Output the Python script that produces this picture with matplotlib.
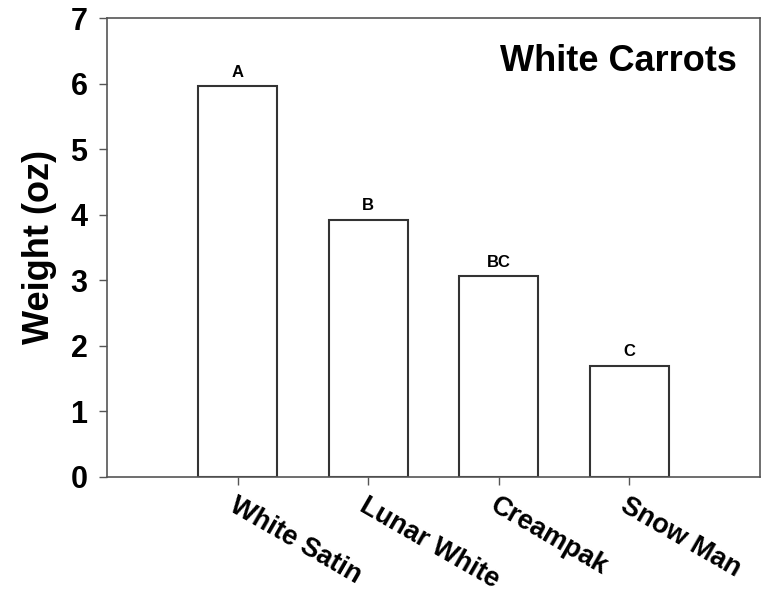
import numpy as np
import matplotlib.pyplot as plt
import matplotlib.transforms as mtransforms

# ---------------- Data ----------------
varieties = ['White Satin', 'Lunar White', 'Creampak', 'Snow Man']
weights = [5.96, 3.92, 3.06, 1.70]
groups = ['A', 'B', 'BC', 'C']
yticks = [0, 1, 2, 3, 4, 5, 6, 7]

plt.rcParams['font.family'] = ['Liberation Sans', 'DejaVu Sans']

fig = plt.figure(figsize=(7.65, 5.93), dpi=100)
ax = fig.add_axes([107 / 765, 1 - 477 / 593, (760 - 107) / 765, (477 - 18) / 593])

x = np.arange(len(varieties))
ax.bar(x, weights, width=0.605, color='white', edgecolor='#333333', linewidth=1.5)

# significance letters above bars
for xi, w, g in zip(x, weights, groups):
    ax.text(xi, w + 0.1, g, ha='center', va='bottom', fontsize=12, fontweight='bold')

ax.set_xlim(-1, 4)
ax.set_ylim(0, 7)
ax.set_yticks(yticks)
ax.set_yticklabels([str(t) for t in yticks], fontsize=22, fontweight='bold')
ax.set_xticks(x)
ax.set_xticklabels(varieties, fontsize=19.5, fontweight='bold', rotation=-30,
                   ha='left', va='top', rotation_mode='anchor')
# nudge rotated labels a little to the right, like the original
shift = mtransforms.ScaledTranslation(6 / 100, 0, fig.dpi_scale_trans)
for lab in ax.get_xticklabels():
    lab.set_transform(lab.get_transform() + shift)
ax.tick_params(axis='y', length=6, width=1, color='#555555', pad=8)
ax.tick_params(axis='x', length=6, width=1, color='#555555', pad=5)
for s in ax.spines.values():
    s.set_color('#555555')
    s.set_linewidth(1.2)

ax.set_ylabel('Weight (oz)', fontsize=26, fontweight='bold', labelpad=10)
ax.text(0.965, 0.905, 'White Carrots', transform=ax.transAxes, ha='right', va='center',
        fontsize=26, fontweight='bold')

fig.savefig('out.png', dpi=100)
